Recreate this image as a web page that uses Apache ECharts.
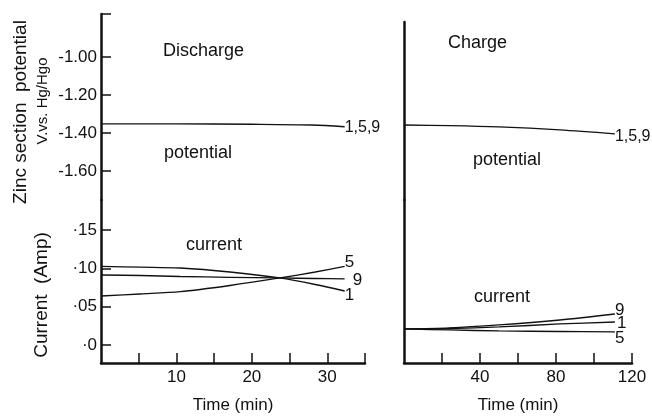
<!DOCTYPE html>
<html lang="en" style="height: 100%">

<head>
  <meta charset="utf-8">
  <title>Zinc section potential and current</title>
  <script src="https://cdn.jsdelivr.net/npm/echarts@6.0.0/dist/echarts.min.js"></script>
</head>

<body style="height: 100%; margin: 0; background: #fff">
  <div id="main" style="width: 652px; height: 416px"></div>
  <script type="text/javascript">
    // tick values and labels
    const potentialTicks = [-1.6, -1.4, -1.2, -1.0];
    const potentialLabels = ['-1.60', '-1.40', '-1.20', '-1.00'];
    const currentTicks = [0, 0.05, 0.10, 0.15];
    const currentLabels = ['\u00b70', '\u00b705', '\u00b710', '\u00b715'];
    const dischargeTicks = [5, 10, 15, 20, 25, 30, 35];
    const dischargeLabels = [10, 20, 30];
    const chargeTicks = [20, 40, 60, 80, 100, 120];
    const chargeLabels = [40, 80, 120];

    // discharge (left), time in min
    const dischargePotTime = [0, 10, 20, 28, 32.3];
    const dischargePot159 = [-1.352, -1.352, -1.354, -1.358, -1.367];
    const dischargeCurTime = [0, 5.2, 10.5, 17.1, 23.7, 28.4, 32.3];
    const dischargeCur1 = [0.1025, 0.1015, 0.1004, 0.0952, 0.0874, 0.0789, 0.0704];
    const dischargeCur5 = [0.0639, 0.0665, 0.0695, 0.0776, 0.0874, 0.0952, 0.1024];
    const dischargeCur9 = [0.0913, 0.0906, 0.0893, 0.0883, 0.0874, 0.0867, 0.0861];

    // charge (right), time in min
    const chargePotTime = [0, 24, 50, 82, 111];
    const chargePot159 = [-1.358, -1.361, -1.368, -1.384, -1.405];
    const chargeCurTime = [0, 24, 50, 82, 111];
    const chargeCur9 = [0.0209, 0.0222, 0.0261, 0.0326, 0.0404];
    const chargeCur1 = [0.0209, 0.0215, 0.0235, 0.0274, 0.0300];
    const chargeCur5 = [0.0209, 0.0196, 0.0183, 0.0176, 0.0170];

    const INK = '#111';
    const FONT = "'Liberation Sans', 'DejaVu Sans', sans-serif";

    const zip = (xs, ys) => xs.map((x, i) => [x, ys[i]]);
    const pick = (ticks, labels) => v => {
      const i = ticks.findIndex(t => Math.abs(t - v) < 1e-6);
      return i < 0 ? '' : labels[i];
    };

    const axisLine = { show: true, onZero: false, lineStyle: { color: INK, width: 2.5 } };

    function timeAxis(gridIndex, max, ticks, labels, visible) {
      return {
        type: 'value', gridIndex, min: 0, max, show: visible,
        axisLine,
        axisTick: { inside: true, length: 10, customValues: ticks, lineStyle: { color: INK, width: 1.5 } },
        axisLabel: { customValues: labels, margin: 6, color: INK, fontSize: 17, fontFamily: FONT },
        splitLine: { show: false },
        name: visible ? 'Time (min)' : '',
        nameLocation: 'middle', nameGap: 34,
        nameTextStyle: { color: INK, fontSize: 17, fontFamily: FONT }
      };
    }

    const potMin = -1.7526, potMaxL = -0.7737, potMaxR = -0.8158;
    const curMin = -0.0235, curMax = 0.1891;

    function line(name, data, xi, yi, offset, size) {
      return {
        type: 'line', name, data, xAxisIndex: xi, yAxisIndex: yi,
        smooth: 0.3, showSymbol: false, silent: true,
        lineStyle: { color: INK, width: 1.3 },
        endLabel: {
          show: true, formatter: name, distance: 0, offset,
          color: INK, fontSize: size || 17, fontFamily: FONT
        }
      };
    }

    function word(text, x, y, size, rot) {
      return {
        type: 'text', x, y, rotation: rot || 0,
        style: {
          text, fill: INK, fontSize: size, fontFamily: FONT,
          align: rot ? 'center' : 'left', verticalAlign: 'middle'
        }
      };
    }

    const chart = echarts.init(document.getElementById('main'));
    chart.setOption({
      animation: false,
      backgroundColor: '#fff',
      grid: [
        { left: 101, top: 14, width: 264, height: 186 },
        { left: 101, top: 200, width: 264, height: 163 },
        { left: 404, top: 22, width: 228, height: 178 },
        { left: 404, top: 200, width: 228, height: 163 }
      ],
      xAxis: [
        timeAxis(0, 35, dischargeTicks, dischargeLabels, false),
        timeAxis(1, 35, dischargeTicks, dischargeLabels, true),
        timeAxis(2, 120, chargeTicks, chargeLabels, false),
        timeAxis(3, 120, chargeTicks, chargeLabels, true)
      ],
      yAxis: [
        {
          type: 'value', gridIndex: 0, min: potMin, max: potMaxL, axisLine,
          axisTick: { inside: true, length: 10, customValues: potentialTicks.concat([potMaxL]), lineStyle: { color: INK, width: 1.5 } },
          axisLabel: { customValues: potentialTicks, formatter: pick(potentialTicks, potentialLabels), margin: 4, color: INK, fontSize: 17, fontFamily: FONT },
          splitLine: { show: false }
        },
        {
          type: 'value', gridIndex: 1, min: curMin, max: curMax, axisLine,
          axisTick: { inside: true, length: 10, customValues: currentTicks, lineStyle: { color: INK, width: 1.5 } },
          axisLabel: { customValues: currentTicks, formatter: pick(currentTicks, currentLabels), margin: 4, color: INK, fontSize: 17, fontFamily: FONT },
          splitLine: { show: false }
        },
        {
          type: 'value', gridIndex: 2, min: potMin, max: potMaxR, axisLine,
          axisTick: { show: false }, axisLabel: { show: false }, splitLine: { show: false }
        },
        {
          type: 'value', gridIndex: 3, min: curMin, max: curMax, axisLine,
          axisTick: { show: false }, axisLabel: { show: false }, splitLine: { show: false }
        }
      ],
      series: [
        line('1,5,9', zip(dischargePotTime, dischargePot159), 0, 0, [0, 1], 16),
        line('1', zip(dischargeCurTime, dischargeCur1), 1, 1, [0, 4]),
        line('5', zip(dischargeCurTime, dischargeCur5), 1, 1, [0, -4]),
        line('9', zip(dischargeCurTime, dischargeCur9), 1, 1, [8, 1]),
        line('1,5,9', zip(chargePotTime, chargePot159), 2, 2, [0, 3], 16),
        line('9', zip(chargeCurTime, chargeCur9), 3, 3, [0, -4]),
        line('1', zip(chargeCurTime, chargeCur1), 3, 3, [2, 1]),
        line('5', zip(chargeCurTime, chargeCur5), 3, 3, [0, 6])
      ],
      graphic: [
        word('Discharge', 163, 51, 18),
        word('potential', 164, 153, 18),
        word('current', 186, 245, 18),
        word('Charge', 448, 43, 18),
        word('potential', 473, 160, 18),
        word('current', 474, 297, 18),
        word('Zinc section  potential', 21, 112, 19, Math.PI / 2),
        word('V.vs. Hg/Hgo', 43, 101, 15, Math.PI / 2),
        word('Current  (Amp)', 42, 295, 19, Math.PI / 2)
      ]
    });
  </script>
</body>

</html>
